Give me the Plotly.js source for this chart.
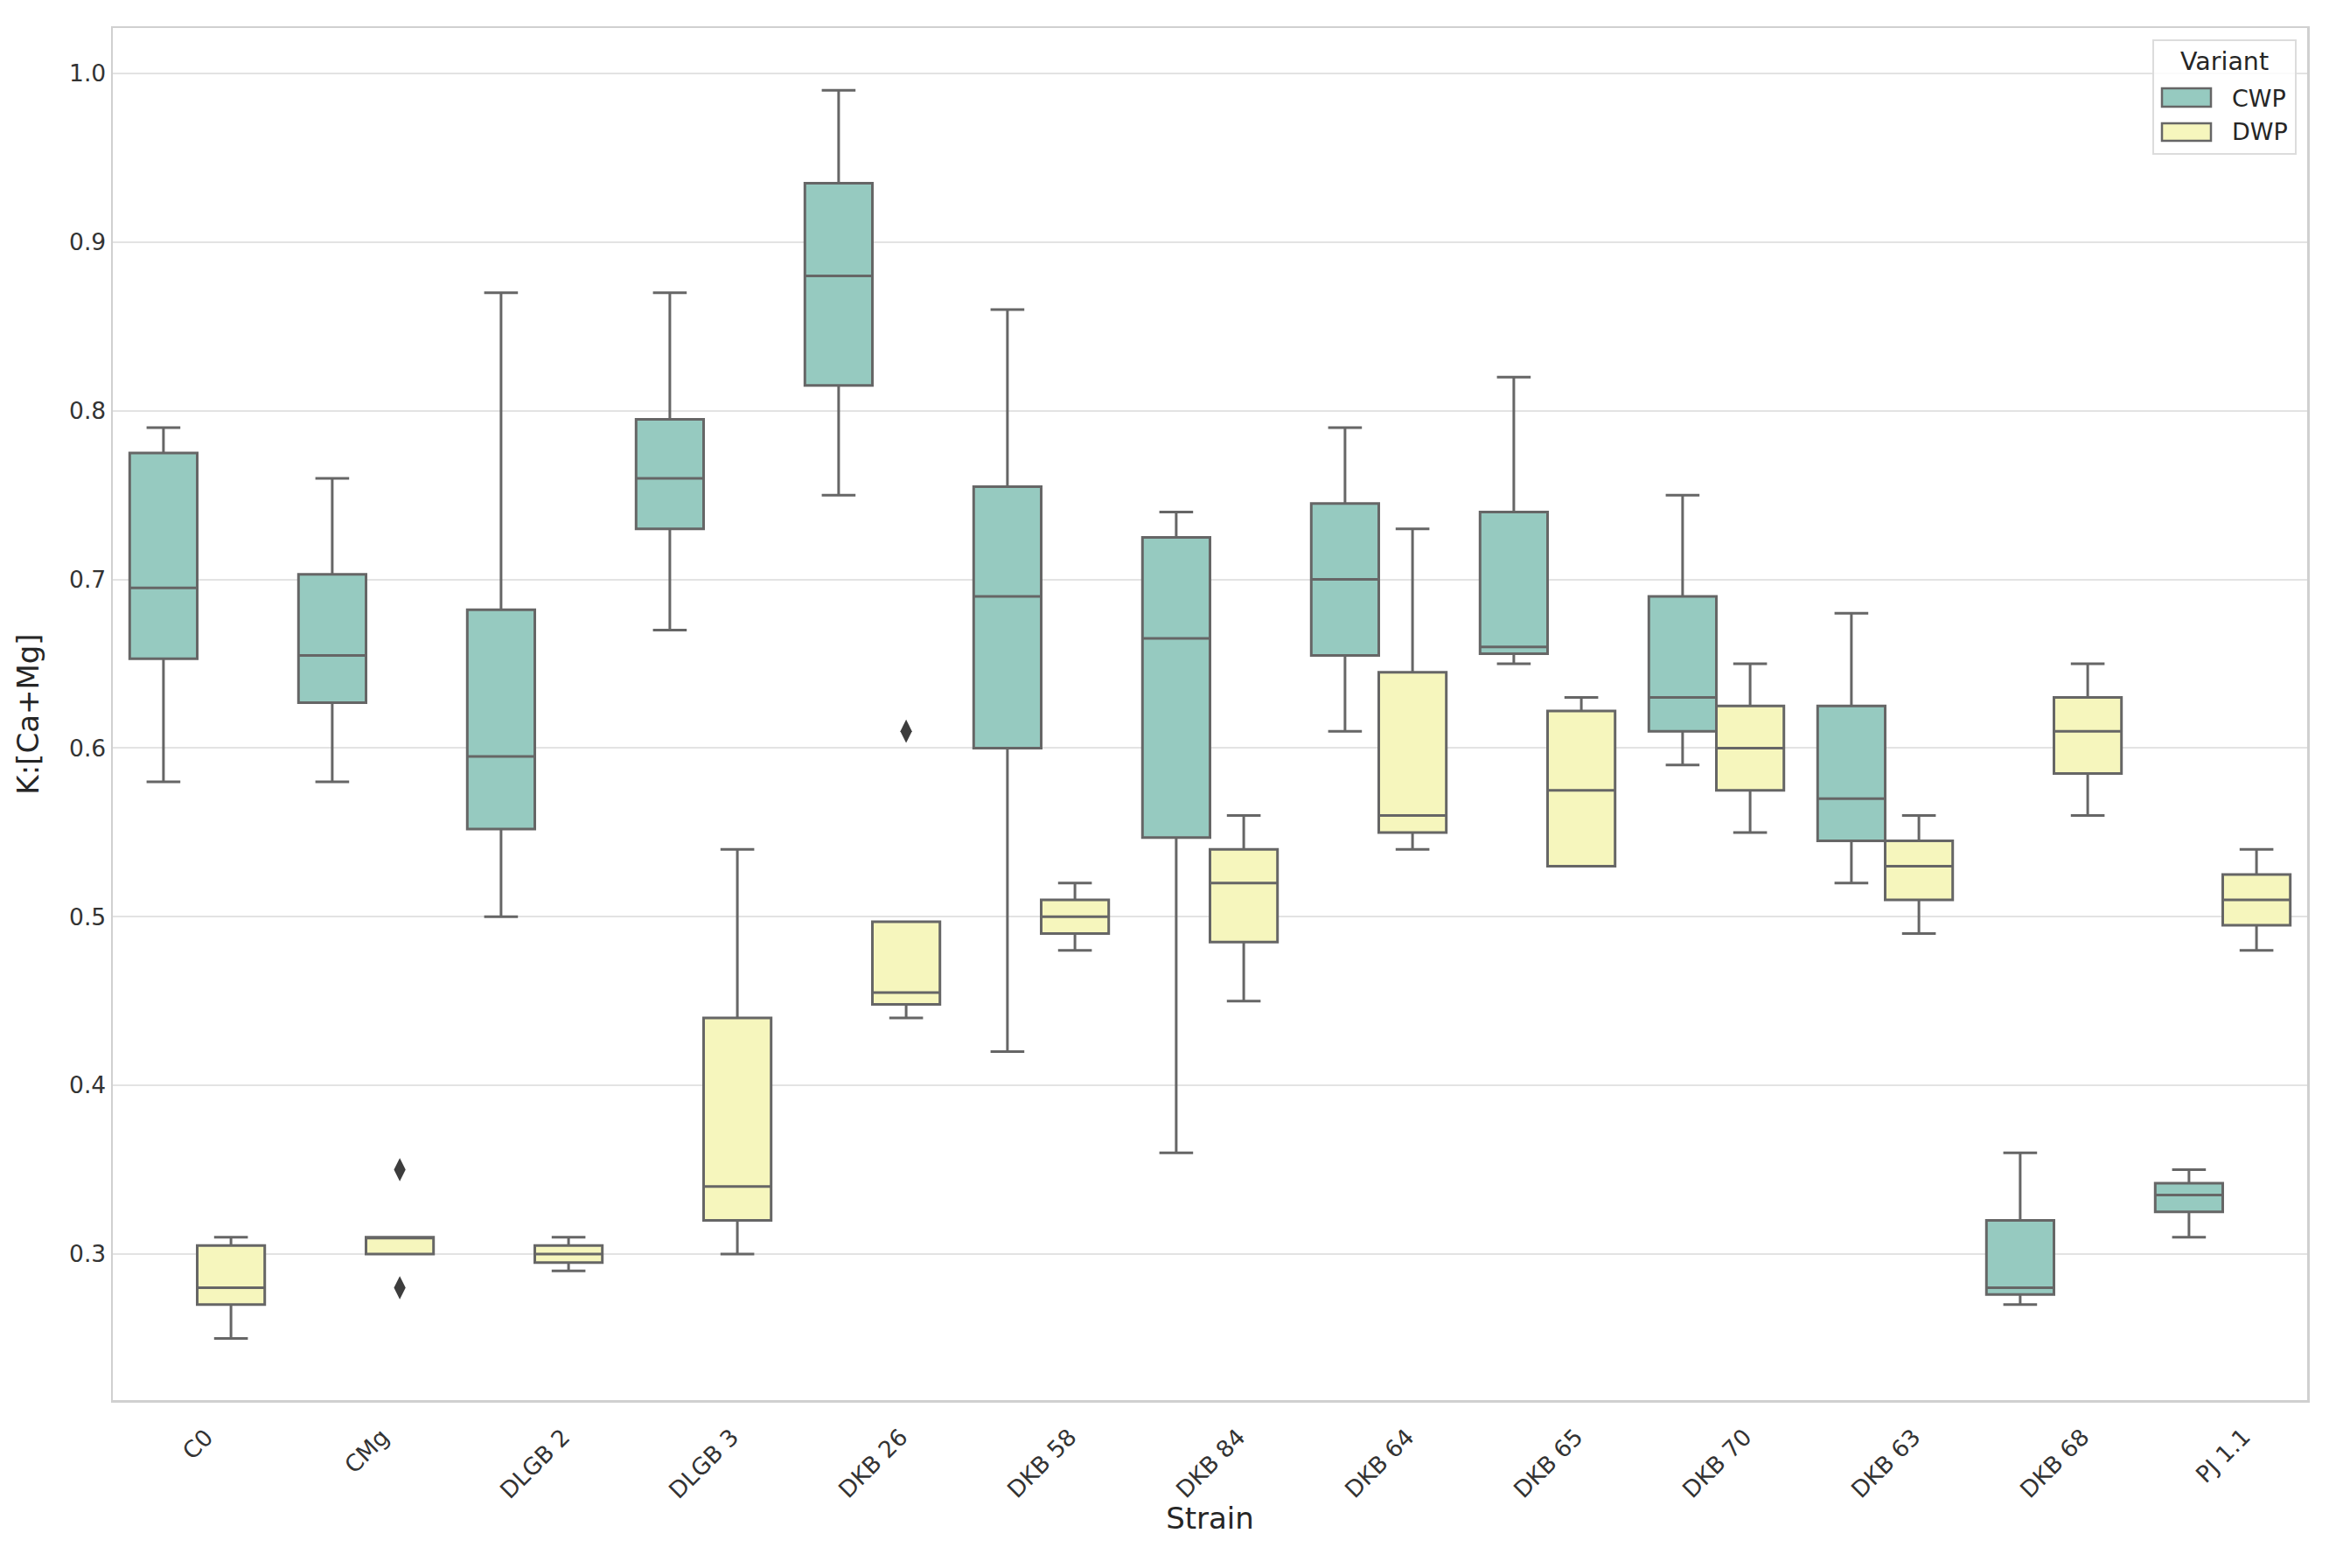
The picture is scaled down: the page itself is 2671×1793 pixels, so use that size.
<!DOCTYPE html>
<html>
<head>
<meta charset="utf-8">
<script src="https://cdn.plot.ly/plotly-3.0.1.min.js"></script>
<style>html,body{margin:0;padding:0;background:#fff;}#chart{width:2671px;height:1793px;}</style>
</head>
<body>
<div id="chart"></div>
<script>
const strains = ["C0","CMg","DLGB 2","DLGB 3","DKB 26","DKB 58","DKB 84","DKB 64","DKB 65","DKB 70","DKB 63","DKB 68","PJ 1.1"];

const cwpLow    = [0.58, 0.58, 0.50, 0.67, 0.75, 0.42, 0.36, 0.61, 0.65, 0.59, 0.52, 0.27, 0.31];
const cwpQ1     = [0.653,0.627,0.552,0.73, 0.815,0.60, 0.547,0.655,0.656,0.61, 0.545,0.276,0.325];
const cwpMedian = [0.695,0.655,0.595,0.76, 0.88, 0.69, 0.665,0.70, 0.66, 0.63, 0.57, 0.28, 0.335];
const cwpQ3     = [0.775,0.703,0.682,0.795,0.935,0.755,0.725,0.745,0.74, 0.69, 0.625,0.32, 0.342];
const cwpHigh   = [0.79, 0.76, 0.87, 0.87, 0.99, 0.86, 0.74, 0.79, 0.82, 0.75, 0.68, 0.36, 0.35];

const dwpLow    = [0.25, 0.30, 0.29, 0.30, 0.44, 0.48, 0.45, 0.54, 0.53, 0.55, 0.49, 0.56, 0.48];
const dwpQ1     = [0.27, 0.30, 0.295,0.32, 0.448,0.49, 0.485,0.55, 0.53, 0.575,0.51, 0.585,0.495];
const dwpMedian = [0.28, 0.31, 0.30, 0.34, 0.455,0.50, 0.52, 0.56, 0.575,0.60, 0.53, 0.61, 0.51];
const dwpQ3     = [0.305,0.31, 0.305,0.44, 0.497,0.51, 0.54, 0.645,0.622,0.625,0.545,0.63, 0.525];
const dwpHigh   = [0.31, 0.31, 0.31, 0.54, 0.497,0.52, 0.56, 0.73, 0.63, 0.65, 0.56, 0.65, 0.54];

const dwpOutlierStrain = ["CMg","CMg","DKB 26"];
const dwpOutlierValue  = [0.35, 0.28, 0.61];

const yTicks = [0.3,0.4,0.5,0.6,0.7,0.8,0.9,1.0];
const variants = ["CWP","DWP"];
const variantColors = ["#96cac0","#f6f6bd"];

const idx = strains.map((s,i)=>i);
const lineCol = "#666666";
const textCol = "#262626";
const font = "DejaVu Sans, Liberation Sans, sans-serif";

const boxCommon = {
  type: "box", width: 0.4, whiskerwidth: 0.5, boxpoints: false, showlegend: false,
  line: {color: lineCol, width: 3}, hoverinfo: "skip"
};

const traces = [
  Object.assign({}, boxCommon, {
    name: variants[0], x: idx.map(i=>i-0.2),
    q1: cwpQ1, median: cwpMedian, q3: cwpQ3, lowerfence: cwpLow, upperfence: cwpHigh,
    fillcolor: variantColors[0]
  }),
  Object.assign({}, boxCommon, {
    name: variants[1], x: idx.map(i=>i+0.2),
    q1: dwpQ1, median: dwpMedian, q3: dwpQ3, lowerfence: dwpLow, upperfence: dwpHigh,
    fillcolor: variantColors[1]
  }),
  {
    type: "scatter", mode: "markers", showlegend: false, hoverinfo: "skip",
    x: dwpOutlierStrain.map(s=>strains.indexOf(s)+0.2), y: dwpOutlierValue,
    marker: {symbol: "diamond-tall", size: 19, color: "#3d3d3d", line: {width: 0}}
  }
];

// x tick labels: rotated 45 degrees, centred on each category (matplotlib style)
const annotations = strains.map((s,i)=>({
  text: s, x: i, xref: "x", y: 0, yref: "paper", yanchor: "top", xanchor: "center",
  yshift: -24, textangle: -45, showarrow: false,
  font: {family: font, size: 26.5, color: "#333333"}
}));

// legend with wide patch swatches (seaborn style)
const lgX0 = 0.92985, lgX1 = 0.99482, lgY0 = 0.90822, lgY1 = 0.99108;
const swX0 = 0.93384, swX1 = 0.95616;
const swY = [[0.94264, 0.95602], [0.91778, 0.93053]];
const lgTextY = [0.94901, 0.92416];
const shapes = [
  {type: "rect", xref: "paper", yref: "paper", x0: lgX0, x1: lgX1, y0: lgY0, y1: lgY1,
   fillcolor: "rgba(255,255,255,0.85)", line: {color: "#dcdcdc", width: 2}, layer: "above"}
];
variants.forEach((v,k)=>{
  shapes.push({type: "rect", xref: "paper", yref: "paper", x0: swX0, x1: swX1,
    y0: swY[k][0], y1: swY[k][1], fillcolor: variantColors[k],
    line: {color: lineCol, width: 2.5}, layer: "above"});
  annotations.push({text: v, xref: "paper", yref: "paper", x: 0.96493, y: lgTextY[k],
    xanchor: "left", yanchor: "middle", showarrow: false,
    font: {family: font, size: 27, color: textCol}});
});
annotations.push({text: "Variant", xref: "paper", yref: "paper", x: 0.96214, y: 0.97578,
  xanchor: "center", yanchor: "middle", showarrow: false,
  font: {family: font, size: 28.5, color: textCol}});

const layout = {
  width: 2671, height: 1793,
  margin: {l: 129, r: 33, t: 32, b: 192},
  paper_bgcolor: "#ffffff", plot_bgcolor: "#ffffff",
  font: {family: font, color: textCol, size: 26.5},
  showlegend: false,
  xaxis: {
    range: [-0.5, 12.5], tickmode: "array", tickvals: idx, ticktext: strains,
    showticklabels: false, ticks: "", showgrid: false, zeroline: false,
    showline: true, mirror: true, linecolor: "#d0d0d0", linewidth: 2.5,
    title: {text: "Strain", font: {size: 34, color: textCol}, standoff: 122}
  },
  yaxis: {
    range: [0.2134, 1.027], tickmode: "array", tickvals: yTicks, tickformat: ".1f",
    ticks: "", showgrid: true, gridcolor: "#e3e3e3", gridwidth: 2, zeroline: false,
    showline: true, mirror: true, linecolor: "#d0d0d0", linewidth: 2.5,
    tickfont: {size: 26.5, color: "#333333"},
    title: {text: "K:[Ca+Mg]", font: {size: 34, color: textCol}, standoff: 24}
  },
  annotations: annotations,
  shapes: shapes
};

Plotly.newPlot("chart", traces, layout, {displayModeBar: false, staticPlot: true});
</script>
</body>
</html>
